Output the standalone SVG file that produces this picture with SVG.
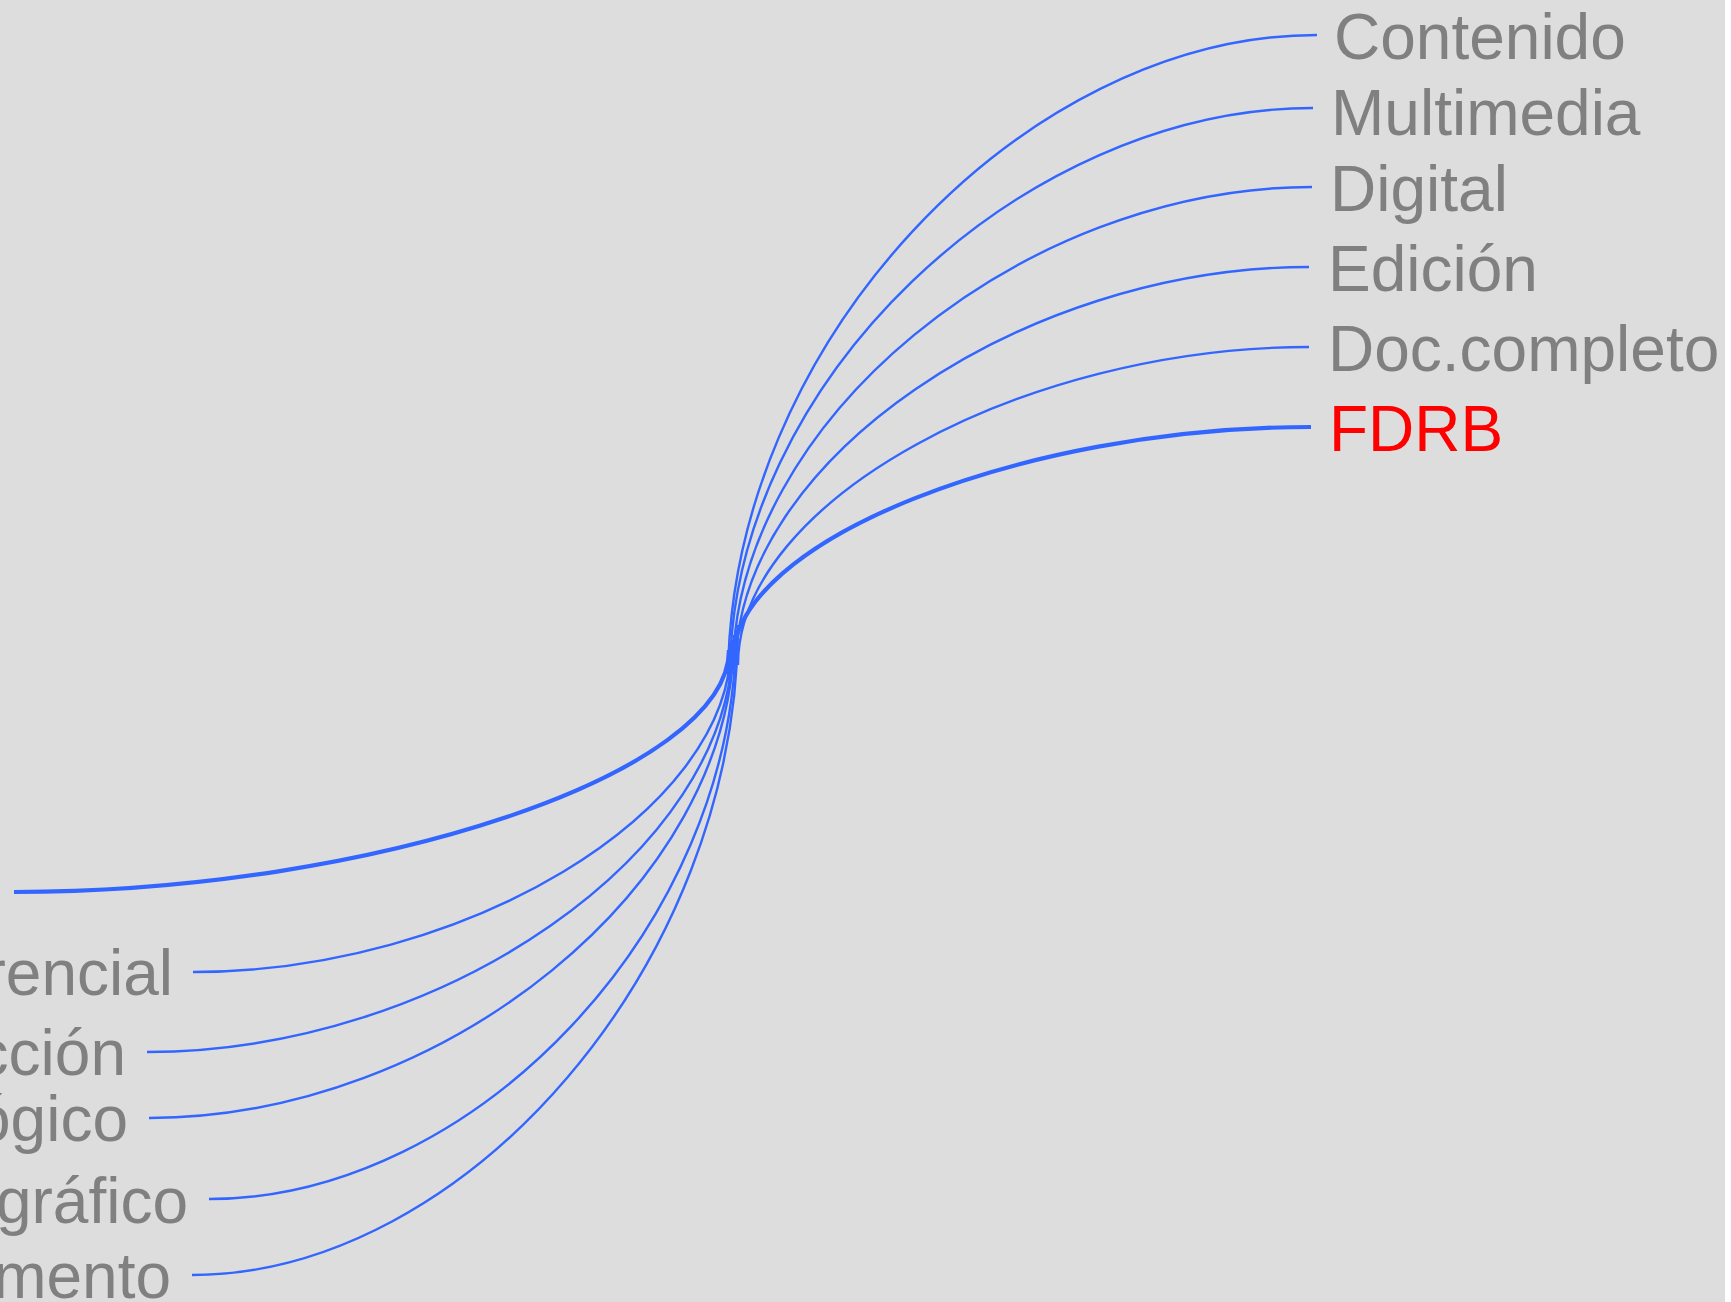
<svg xmlns="http://www.w3.org/2000/svg" width="1731" height="1302" viewBox="0 0 1731 1302">
<style>
.bg{fill:#dddddd}
.link{fill:none;stroke:#3366ff;stroke-width:2.4}
.link.hl{stroke-width:4.2}
.lbl{font-family:"Liberation Sans",Arial,sans-serif;font-size:64px;fill:#808080}
.lbl.sel{fill:#ff0000}
.l{text-anchor:end}
</style>
<rect class="bg" x="0" y="0" width="1725" height="1302"/>
<g id="connectors">
<path class="link hl" d="M14,892 C372.5,892 729,773.5 729,650"/>
<path class="link" d="M193,972 C463,972 731,813.5 731,645"/>
<path class="link" d="M147,1052 C440.5,1052 733,853.5 733,640"/>
<path class="link" d="M149,1118 C442,1118 734,886.5 734,635"/>
<path class="link" d="M209,1199 C473,1199 736,927 736,630"/>
<path class="link" d="M192,1275 C465,1275 738,965 738,625"/>
<path class="link" d="M1317,35 C1022.5,35 728,345 728,680"/>
<path class="link" d="M1313,108 C1021.5,108 730,381.5 730,675"/>
<path class="link" d="M1312,187 C1022.5,187 733,421 733,670"/>
<path class="link" d="M1309,267 C1022.5,267 736,461 736,665"/>
<path class="link" d="M1309,347 C1023.5,347 738,501 738,665"/>
<path class="link hl" d="M1311,427 C1021,427 733,541 733,660"/>
</g>
<g id="node-contenido"><text class="lbl" x="1334" y="59">Contenido</text></g>
<g id="node-multimedia"><text class="lbl" x="1331" y="135">Multimedia</text></g>
<g id="node-digital"><text class="lbl" x="1330" y="211">Digital</text></g>
<g id="node-edicion"><text class="lbl" x="1328" y="291">Edición</text></g>
<g id="node-doccompleto"><text class="lbl" x="1328" y="371">Doc.completo</text></g>
<g id="node-fdrb"><text class="lbl sel" x="1329" y="451">FDRB</text></g>
<g id="node-rencial"><text class="lbl l" x="173" y="995">rencial</text></g>
<g id="node-ccion"><text class="lbl l" x="126" y="1075">cción</text></g>
<g id="node-ogico"><text class="lbl l" x="128" y="1141">ógico</text></g>
<g id="node-grafico"><text class="lbl l" x="188" y="1223">gráfico</text></g>
<g id="node-mento"><text class="lbl l" x="171" y="1298">mento</text></g>
</svg>
